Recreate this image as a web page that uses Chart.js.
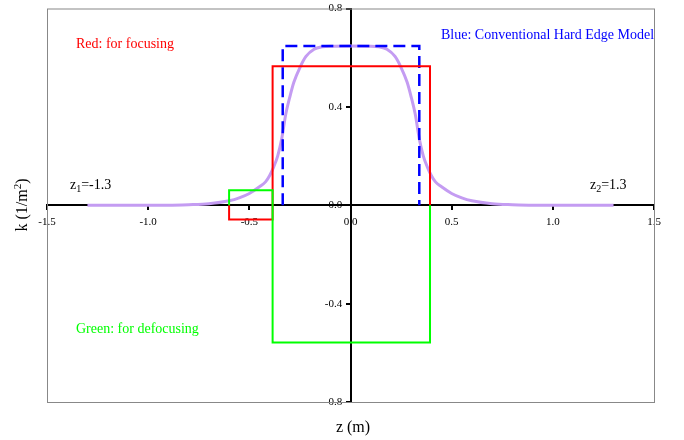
<!DOCTYPE html>
<html lang="en">
  <head>
    <meta charset="UTF-8" />
    <title>k(z) focusing profile</title>
    <script src="https://cdn.jsdelivr.net/npm/chart.js@4"></script>
    <style>
      html, body { margin: 0; padding: 0; background: #fff; }
      #wrap { width: 684px; height: 440px; }
    </style>
  </head>
  <body>
    <div id="wrap"><canvas id="myChart"></canvas></div>

    <script>
      // values
      const redX = [-0.6, -0.6, -0.385, -0.385, 0.393, 0.393];
      const redY = [0, -0.058, -0.058, 0.565, 0.565, 0];

      const greenX = [-0.6, -0.6, -0.385, -0.385, 0.393, 0.393];
      const greenY = [0, 0.061, 0.061, -0.558, -0.558, 0];

      const blueX = [-0.335, -0.335, 0.34, 0.34];
      const blueY = [0, 0.648, 0.648, 0];

      // smooth (soft edge) profile
      const fieldX = [-1.3, -0.9, -0.8, -0.7, -0.6, -0.55, -0.5, -0.45, -0.42, -0.4, -0.38, -0.36, -0.34, -0.32, -0.3, -0.28, -0.25, -0.22, -0.18, -0.14, -0.1, 0,
                      0.1, 0.14, 0.18, 0.22, 0.25, 0.28, 0.3, 0.32, 0.34, 0.36, 0.38, 0.4, 0.42, 0.45, 0.5, 0.55, 0.6, 0.7, 0.8, 0.9, 1.3];
      const fieldY = [0, 0, 0.002, 0.006, 0.018, 0.03, 0.048, 0.075, 0.095, 0.12, 0.155, 0.2, 0.27, 0.37, 0.44, 0.5, 0.56, 0.605, 0.634, 0.644, 0.647, 0.648,
                      0.647, 0.644, 0.634, 0.605, 0.56, 0.5, 0.44, 0.37, 0.27, 0.2, 0.155, 0.12, 0.095, 0.075, 0.048, 0.03, 0.018, 0.006, 0.002, 0, 0];

      const xTicks = [-1.5, -1.0, -0.5, 0.0, 0.5, 1.0, 1.5];
      const yTicks = [-0.8, -0.4, 0.0, 0.4, 0.8];

      const serif = '"Liberation Serif", "Times New Roman", serif';

      function pts(xs, ys) {
        return xs.map((x, i) => ({ x: x, y: ys[i] }));
      }

      // gray frame, axis titles and the notes on the plot
      const decor = {
        id: 'decor',
        beforeDatasetsDraw(chart) {
          const { ctx, chartArea: a } = chart;
          ctx.save();
          ctx.strokeStyle = '#888';
          ctx.lineWidth = 1;
          ctx.strokeRect(a.left + 0.5, a.top + 0.5, a.right - a.left, a.bottom - a.top);
          ctx.restore();
        },
        afterDraw(chart) {
          const { ctx } = chart;
          ctx.save();
          ctx.textBaseline = 'alphabetic';
          ctx.font = '14px ' + serif;
          ctx.fillStyle = '#ff0000';
          ctx.fillText('Red: for focusing', 76, 48);
          ctx.fillStyle = '#0000ff';
          ctx.fillText('Blue: Conventional Hard Edge Model', 441, 39);
          ctx.fillStyle = '#00ff00';
          ctx.fillText('Green: for defocusing', 76, 333);

          ctx.fillStyle = '#000';
          // z1 and z2 labels with subscripts
          function sub(x, y, base, idx, rest) {
            ctx.font = '14px ' + serif;
            ctx.fillText(base, x, y);
            let w = ctx.measureText(base).width;
            ctx.font = '10px ' + serif;
            ctx.fillText(idx, x + w, y + 3);
            w += ctx.measureText(idx).width;
            ctx.font = '14px ' + serif;
            ctx.fillText(rest, x + w, y);
          }
          sub(70, 189, 'z', '1', '=-1.3');
          sub(590, 189, 'z', '2', '=1.3');

          // axis titles
          ctx.font = '16px ' + serif;
          ctx.textAlign = 'center';
          ctx.fillText('z (m)', 353, 432);
          ctx.translate(27, 205);
          ctx.rotate(-Math.PI / 2);
          ctx.textAlign = 'left';
          const p1 = 'k (1/m', p3 = ')';
          ctx.font = '16px ' + serif;
          const w1 = ctx.measureText(p1).width;
          ctx.font = '11px ' + serif;
          const w2 = ctx.measureText('2').width;
          ctx.font = '16px ' + serif;
          const w3 = ctx.measureText(p3).width;
          let x0 = -(w1 + w2 + w3) / 2;
          ctx.fillText(p1, x0, 0);
          ctx.font = '11px ' + serif;
          ctx.fillText('2', x0 + w1, -6);
          ctx.font = '16px ' + serif;
          ctx.fillText(p3, x0 + w1 + w2, 0);
          ctx.restore();
        }
      };

      const ctx = document.getElementById('myChart').getContext('2d');
      const myChart = new Chart(ctx, {
        type: 'scatter',
        data: {
          datasets: [
            {
              label: 'Green',
              data: pts(greenX, greenY),
              showLine: true,
              borderColor: '#00ff00',
              borderWidth: 2,
              pointRadius: 0,
              tension: 0
            },
            {
              label: 'Red',
              data: pts(redX, redY),
              showLine: true,
              borderColor: '#ff0000',
              borderWidth: 2,
              pointRadius: 0,
              tension: 0
            },
            {
              label: 'Blue',
              data: pts(blueX, blueY),
              showLine: true,
              borderColor: '#0000ff',
              borderWidth: 2.5,
              borderDash: [12, 6],
              pointRadius: 0,
              tension: 0
            },
            {
              label: 'Field',
              data: pts(fieldX, fieldY),
              showLine: true,
              borderColor: '#c49cf2',
              borderWidth: 3,
              pointRadius: 0,
              cubicInterpolationMode: 'monotone'
            }
          ]
        },
        options: {
          responsive: true,
          maintainAspectRatio: false,
          animation: false,
          layout: { padding: { left: 47, right: 30, top: 0, bottom: 38 } },
          plugins: {
            legend: { display: false },
            tooltip: { enabled: false }
          },
          scales: {
            x: {
              type: 'linear',
              position: { y: 0 },
              min: -1.5,
              max: 1.5,
              afterBuildTicks: axis => { axis.ticks = xTicks.map(v => ({ value: v })); },
              ticks: {
                color: '#000',
                font: { family: serif, size: 11 },
                padding: 6,
                maxRotation: 0,
                callback: v => v.toFixed(1)
              },
              grid: { drawOnChartArea: false, drawTicks: true, tickLength: 4, color: '#000', lineWidth: 2 },
              border: { color: '#000', width: 2 }
            },
            y: {
              type: 'linear',
              position: { x: 0 },
              min: -0.8,
              max: 0.8,
              afterBuildTicks: axis => { axis.ticks = yTicks.map(v => ({ value: v })); },
              ticks: {
                color: '#000',
                font: { family: serif, size: 11, lineHeight: 1 },
                padding: 3,
                // trailing spaces keep the label clear of the centred axis
                callback: v => v.toFixed(1) + '   '
              },
              grid: { drawOnChartArea: false, drawTicks: true, tickLength: 4, color: '#000', lineWidth: 2 },
              border: { color: '#000', width: 2 }
            }
          }
        },
        plugins: [decor]
      });
    </script>
  </body>
</html>
